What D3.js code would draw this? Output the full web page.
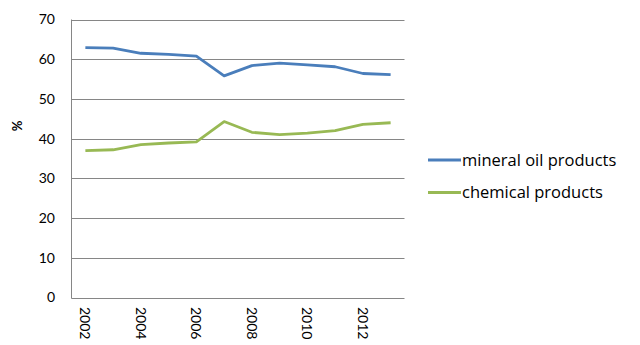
<!DOCTYPE html>
<html><head><meta charset="utf-8">
<script src="https://cdn.jsdelivr.net/npm/d3@7/dist/d3.min.js"></script>
<style>body{margin:0;background:#fff}svg{display:block}text{font-family:Lato,"Open Sans",sans-serif;fill:#000}</style>
</head><body>
<svg id="c" width="640" height="345"></svg>
<script>
const years = ["2002","2003","2004","2005","2006","2007","2008","2009","2010","2011","2012","2013"];
const tickYears = ["2002","2004","2006","2008","2010","2012"];
const mineral = [62.9,62.8,61.5,61.2,60.8,55.8,58.4,59.0,58.6,58.1,56.4,56.1];
const chemical = [37.0,37.2,38.5,38.9,39.2,44.3,41.6,41.0,41.4,42.0,43.6,44.0];
const seriesNames = ["mineral oil products","chemical products"];
const colors = ["#4a7ebb","#98b954"];
const yTicks = [0,10,20,30,40,50,60,70];

const svg = d3.select("#c");
const L = 71.5, R = 404.5, T = 19.5, B = 297.5;
const x = d3.scaleBand().domain(years).range([L,R]);
const y = d3.scaleLinear().domain([0,70]).range([B,T]);

svg.append("g").selectAll("line").data(yTicks).join("line")
  .attr("x1",L).attr("x2",R).attr("y1",d=>Math.round(y(d))+0.5).attr("y2",d=>Math.round(y(d))+0.5)
  .attr("stroke","#868686").attr("stroke-width",1);
svg.append("line").attr("x1",L).attr("x2",L).attr("y1",T).attr("y2",B+1).attr("stroke","#868686");

svg.append("g").selectAll("text").data(yTicks).join("text")
  .attr("x",55).attr("y",d=>y(d)).attr("dy","0.35em").attr("text-anchor","end")
  .style("font-size","14px").text(d=>d);

svg.append("text").attr("transform","translate(22,126) rotate(-90)").attr("text-anchor","middle")
  .style("font-size","13px").style("font-weight","bold").text("%");

svg.append("g").selectAll("text").data(tickYears).join("text")
  .attr("transform",d=>`translate(${x(d)+x.bandwidth()/2},307) rotate(90)`)
  .attr("dy","0.35em").attr("text-anchor","start")
  .style("font-size","14px").text(d=>d);

const line = d3.line().x((d,i)=>x(years[i])+x.bandwidth()/2).y(d=>y(d));
[mineral,chemical].forEach((s,i)=>{
  svg.append("path").datum(s).attr("d",line).attr("fill","none")
    .attr("stroke",colors[i]).attr("stroke-width",2.8).attr("stroke-linejoin","round").attr("stroke-linecap","butt");
});

seriesNames.forEach((n,i)=>{
  const ly = 160 + i*32.5;
  svg.append("line").attr("x1",428).attr("x2",461).attr("y1",ly).attr("y2",ly)
    .attr("stroke",colors[i]).attr("stroke-width",2.8);
  svg.append("text").attr("x",462).attr("y",ly).attr("dy","0.35em")
    .style("font-family","'Open Sans',sans-serif").style("font-size","16.5px").text(n);
});
</script>
</body></html>
